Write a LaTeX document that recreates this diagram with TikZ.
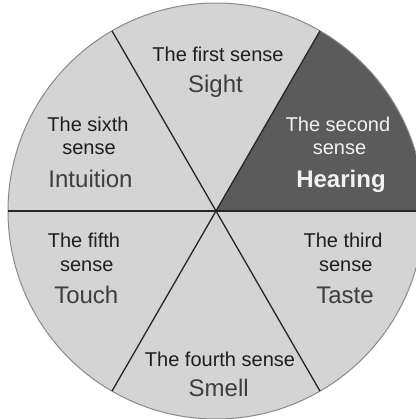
\documentclass[tikz,border=0pt]{standalone}
\usepackage{fontspec}
\setmainfont{Liberation Sans}
\usepackage{tikz}

\definecolor{sectorgray}{HTML}{D4D4D4}
\definecolor{hearinggray}{HTML}{5B5B5B}
\definecolor{rimgray}{HTML}{8A8A8A}
\definecolor{linegray}{HTML}{262626}
\definecolor{titlegray}{HTML}{1E1E1E}
\definecolor{namegray}{HTML}{3E3E3E}
\definecolor{lightname}{HTML}{F2F2F2}

\tikzset{
    sensetitle/.style={
        anchor=base,
        inner sep=0pt,
        font=\fontsize{20bp}{24bp}\selectfont,
        text=titlegray
    },
    sensename/.style={
        anchor=base,
        inner sep=0pt,
        font=\fontsize{24bp}{28bp}\selectfont,
        text=namegray
    }
}

\begin{document}
\begin{tikzpicture}[x=1bp, y=1bp]

\useasboundingbox (0,0) rectangle (416,419);
\clip (0,0) rectangle (416,419);

% Disc

\coordinate (centre) at (216,208);

\fill[sectorgray] (centre) circle[radius=208];

\fill[
    hearinggray
] (centre) -- ++(0:208)
    arc[start angle=0, end angle=60, radius=208] -- cycle;

\draw[
    rimgray,
    line width=1bp
] (centre) circle[radius=208];


% Dividers

\foreach \a in {0,60,120}
    \draw[
        linegray,
        line width=1.3bp,
        shift={(centre)}
    ] (\a:208) -- (\a+180:208);


% First sense

\node[sensetitle] (firsttitle) at (218,358) {The first sense};
\node[sensename] (firstname) at (215.5,327) {Sight};


% Second sense

\node[sensetitle, text=lightname] (secondtitle) at (338,288) {The second};
\node[sensetitle, text=lightname] (secondsense) at (339.5,264.5) {sense};
\node[
    sensename,
    text=lightname,
    font=\fontsize{24bp}{28bp}\selectfont\bfseries
] (secondname) at (341,232) {Hearing};


% Third sense

\node[sensetitle] (thirdtitle) at (343,171.3) {The third};
\node[sensetitle] (thirdsense) at (345.8,148) {sense};
\node[sensename] (thirdname) at (345,115.4) {Taste};


% Fourth sense

\node[sensetitle] (fourthtitle) at (220,53) {The fourth sense};
\node[sensename] (fourthname) at (218.7,22.4) {Smell};


% Fifth sense

\node[sensetitle] (fifthtitle) at (84,171.3) {The fifth};
\node[sensetitle] (fifthsense) at (86.7,148) {sense};
\node[sensename] (fifthname) at (86.3,115.4) {Touch};


% Sixth sense

\node[sensetitle] (sixthtitle) at (88,288) {The sixth};
\node[sensetitle] (sixthsense) at (89,264.5) {sense};
\node[sensename] (sixthname) at (90.5,232) {Intuition};

\end{tikzpicture}
\end{document}
